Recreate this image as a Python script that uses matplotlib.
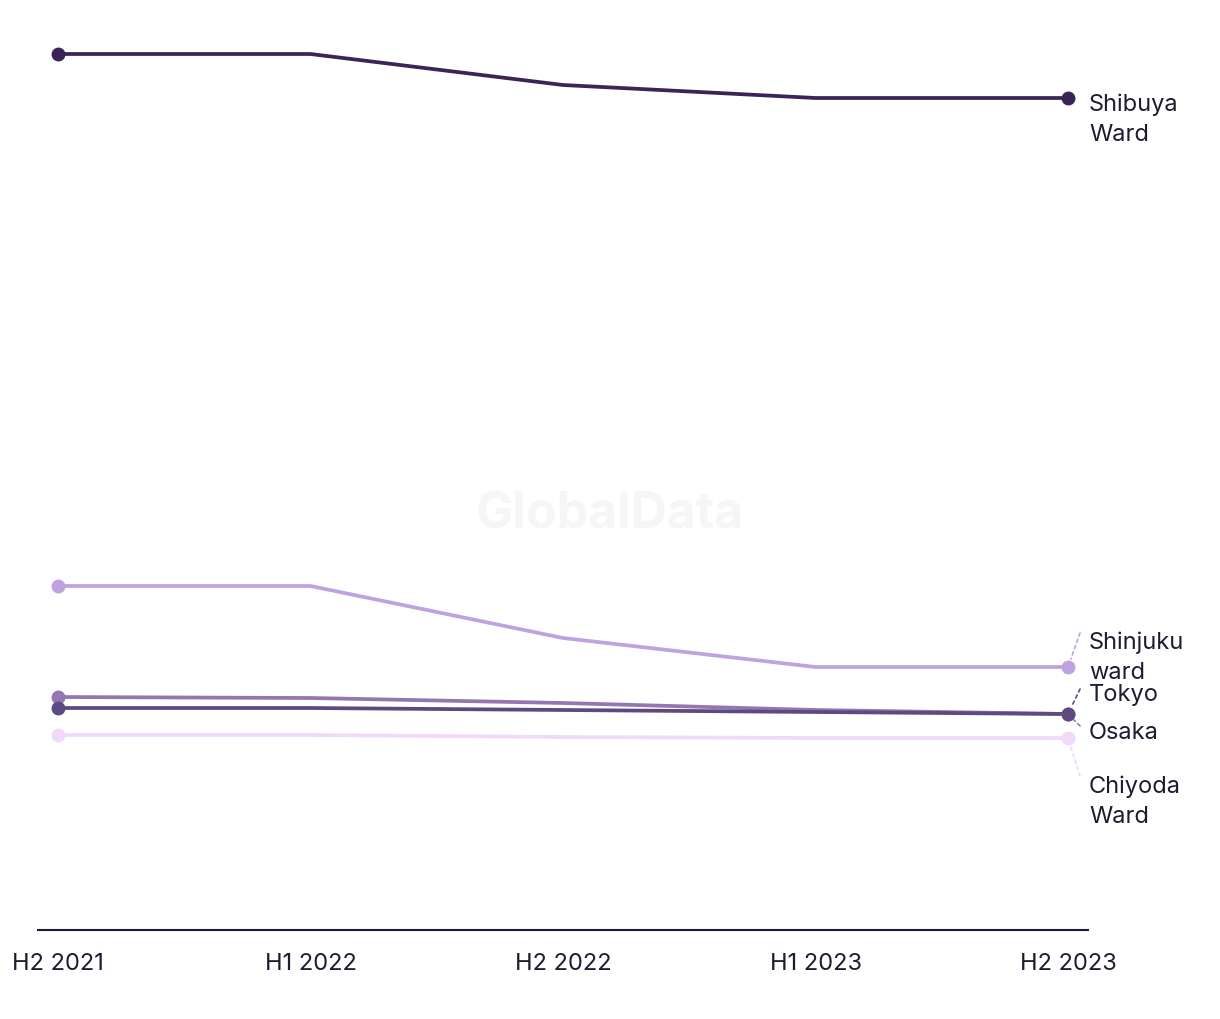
import matplotlib
matplotlib.use("Agg")
import matplotlib.pyplot as plt

plt.rcParams['font.family'] = ['Inter', 'DejaVu Sans']

periods = ['H2 2021', 'H1 2022', 'H2 2022', 'H1 2023', 'H2 2023']

shibuya = [87.6, 87.6, 84.5, 83.2, 83.2]
shinjuku = [34.4, 34.4, 29.2, 26.3, 26.3]
osaka = [23.3, 23.2, 22.7, 22.0, 21.6]
tokyo = [22.2, 22.2, 22.0, 21.8, 21.6]
chiyoda = [19.5, 19.5, 19.3, 19.2, 19.2]

series = [
    # name, values, colour, label offset (px), connector end (px) or None
    ('Shibuya\nWard', shibuya, '#3b2456', (21, -21), None),
    ('Shinjuku\nward', shinjuku, '#bea3e0', (21, 10), (12, 34)),
    ('Osaka', osaka, '#9477b0', (21, -18), (12, -12)),
    ('Tokyo', tokyo, '#5d4a80', (21, 20), (12, 25)),
    ('Chiyoda\nWard', chiyoda, '#f1d9fa', (21, -63), (12, -38)),
]

text_col = '#1e1c33'

fig = plt.figure(figsize=(12.2, 10.2), dpi=100)
ax = fig.add_axes([38 / 1220, 89 / 1020, 1050 / 1220, 899 / 1020])

fig.text(610 / 1220, 1 - 515 / 1020, 'GlobalData', ha='center', va='center',
         fontsize=36, fontweight='bold', color='#f6f6f6', zorder=0)

x = list(range(len(periods)))
for name, vals, col, off, conn in series:
    ax.plot(x, vals, color=col, lw=2.7, zorder=3, solid_capstyle='round')
    ax.plot([x[0], x[-1]], [vals[0], vals[-1]], 'o', color=col, ms=9, zorder=4)
    if conn is not None:
        ax.annotate('', xy=(x[-1], vals[-1]), xytext=conn, textcoords='offset pixels',
                    arrowprops=dict(arrowstyle='-', linestyle=(0, (2, 2)), color=col,
                                    lw=1.2, shrinkA=0, shrinkB=6))
    ax.annotate(name, xy=(x[-1], vals[-1]), xytext=off, textcoords='offset pixels',
                ha='left', va='center', fontsize=17, color=text_col, linespacing=1.45,
                annotation_clip=False)

ax.set_xlim(-0.079, 4.079)
ax.set_ylim(0, 89.9)
ax.set_xticks(x)
ax.set_xticklabels(periods, fontsize=17, color=text_col)
ax.tick_params(axis='x', length=0, pad=16)
ax.set_yticks([])
for s in ['top', 'right', 'left']:
    ax.spines[s].set_visible(False)
ax.spines['bottom'].set_color(text_col)
ax.spines['bottom'].set_linewidth(1.5)

fig.savefig('out.png', dpi=100)
